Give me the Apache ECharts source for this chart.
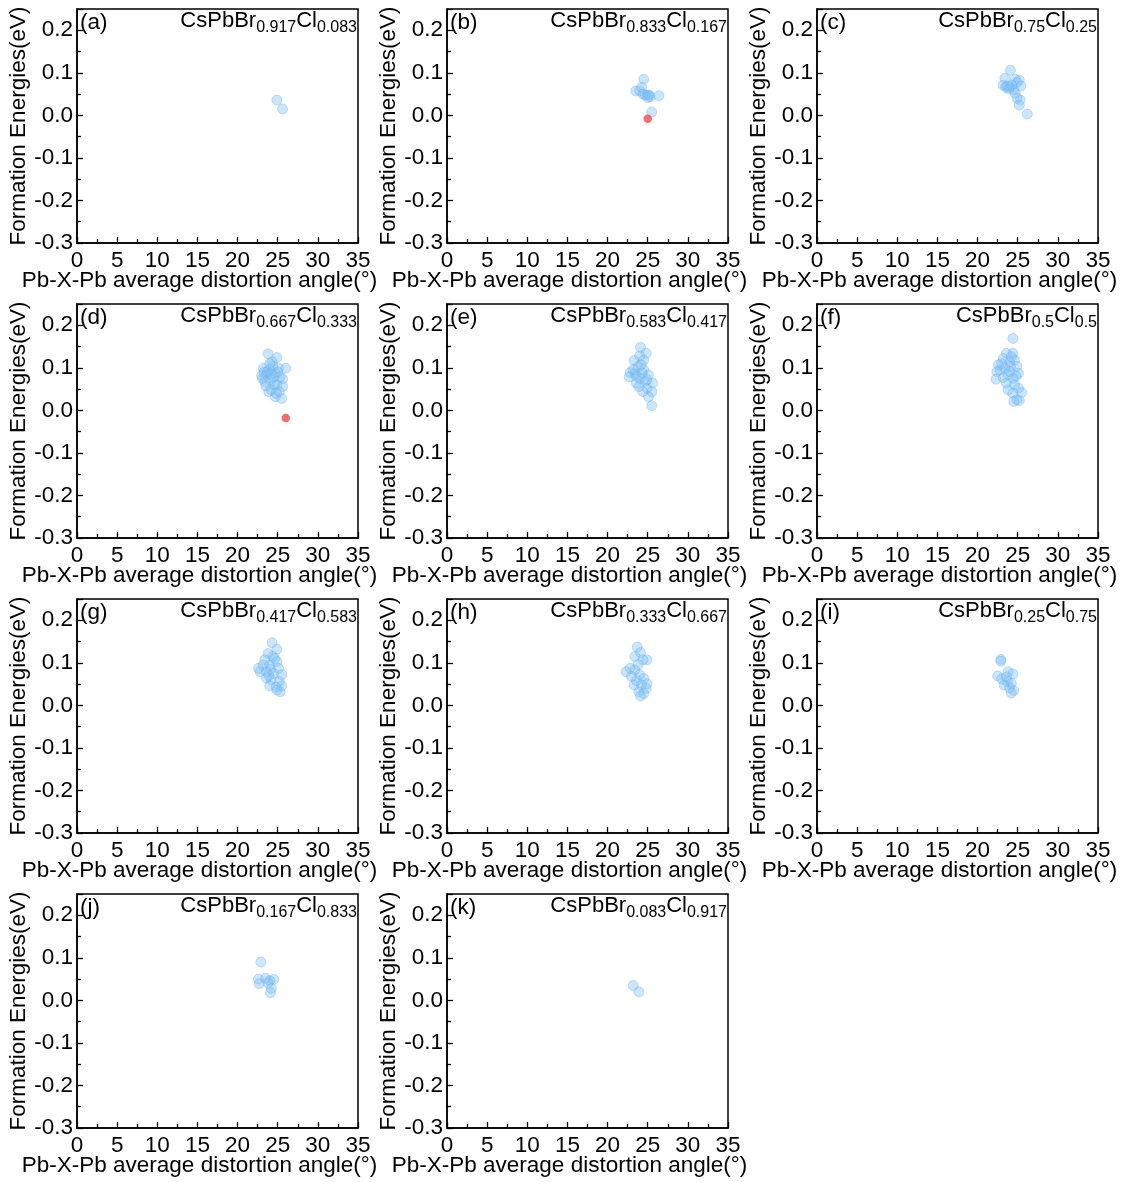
<!DOCTYPE html>
<html>
<head>
<meta charset="utf-8">
<script src="https://cdn.jsdelivr.net/npm/echarts@6/dist/echarts.min.js"></script>
<style>
  html, body { margin: 0; padding: 0; background: #fff; }
  #chart { width: 1126px; height: 1182px; }
</style>
</head>
<body>
<div id="chart"></div>
<script>
// Panel tags and halide fractions of CsPbBr(x)Cl(1-x)
const panelTags = ['(a)', '(b)', '(c)', '(d)', '(e)', '(f)', '(g)', '(h)', '(i)', '(j)', '(k)'];
const brFrac = ['0.917', '0.833', '0.75', '0.667', '0.583', '0.5', '0.417', '0.333', '0.25', '0.167', '0.083'];
const clFrac = ['0.083', '0.167', '0.25', '0.333', '0.417', '0.5', '0.583', '0.667', '0.75', '0.833', '0.917'];

// Axis ranges and tick steps
const xMin = 0, xMax = 35, xStep = 5;
const yMin = -0.3, yMax = 0.25, yStep = 0.1;
const xName = 'Pb-X-Pb average distortion angle(°)';
const yName = 'Formation Energies(eV)';

// [average distortion angle (deg), formation energy (eV)]
const ptsA = [[24.9, 0.036], [25.6, 0.015]];
const ptsB = [[24.5, 0.085], [23.5, 0.057], [24.0, 0.058], [24.25, 0.066], [24.4, 0.050], [24.7, 0.048],
  [25.0, 0.047], [25.2, 0.048], [25.0, 0.042], [25.3, 0.044], [26.4, 0.046], [25.5, 0.008]];
const ptsC = [[24.1, 0.106], [23.4, 0.087], [23.2, 0.071], [23.5, 0.066], [24.0, 0.066], [24.7, 0.085],
  [24.9, 0.077], [24.3, 0.071], [24.5, 0.060], [24.7, 0.052], [25.2, 0.083], [25.4, 0.069], [25.3, 0.036],
  [24.9, 0.040], [25.2, 0.024], [26.2, 0.003], [23.9, 0.062], [23.7, 0.069]];
const ptsD = [[23.8, 0.133], [24.9, 0.124], [24.3, 0.114], [23.2, 0.099], [24.0, 0.095], [25.1, 0.099],
  [26.0, 0.099], [23.6, 0.083], [24.7, 0.087], [23.1, 0.075], [24.1, 0.071], [25.6, 0.074], [23.4, 0.067],
  [24.9, 0.060], [25.3, 0.079], [24.2, 0.048], [23.9, 0.044], [24.7, 0.032], [25.5, 0.028], [25.2, 0.044],
  [24.6, 0.060], [23.7, 0.091], [24.4, 0.103], [25.6, 0.056], [23.0, 0.082], [24.5, 0.078], [23.5, 0.058],
  [24.8, 0.040], [25.0, 0.090], [24.2, 0.085], [23.3, 0.090], [24.0, 0.110]];
const ptsE = [[24.1, 0.148], [24.8, 0.134], [24.0, 0.128], [23.3, 0.117], [24.5, 0.118], [23.8, 0.103],
  [22.8, 0.089], [23.4, 0.086], [24.5, 0.095], [25.1, 0.083], [22.7, 0.079], [24.0, 0.075], [24.7, 0.068],
  [25.6, 0.064], [23.9, 0.056], [24.9, 0.052], [25.5, 0.044], [25.1, 0.032], [25.5, 0.011], [23.2, 0.096],
  [24.2, 0.107], [23.6, 0.064], [24.4, 0.044], [23.6, 0.080], [24.3, 0.088], [24.9, 0.072]];
const ptsF = [[24.4, 0.169], [23.6, 0.134], [24.4, 0.134], [23.2, 0.122], [24.6, 0.118], [24.0, 0.114],
  [22.6, 0.107], [24.9, 0.103], [23.4, 0.099], [22.4, 0.091], [24.0, 0.091], [25.1, 0.087], [22.3, 0.073],
  [23.2, 0.077], [24.4, 0.075], [23.6, 0.064], [24.6, 0.060], [23.8, 0.048], [25.1, 0.052], [25.5, 0.042],
  [24.4, 0.040], [24.9, 0.025], [24.5, 0.021], [25.2, 0.023], [22.8, 0.095], [24.1, 0.103], [23.0, 0.110],
  [24.8, 0.080], [23.8, 0.084], [24.2, 0.126]];
const ptsG = [[24.3, 0.147], [24.9, 0.132], [23.8, 0.122], [24.4, 0.115], [23.4, 0.107], [24.9, 0.103],
  [23.2, 0.095], [24.0, 0.095], [25.1, 0.087], [22.8, 0.079], [23.6, 0.079], [24.5, 0.075], [25.5, 0.072],
  [23.6, 0.064], [24.2, 0.060], [25.2, 0.056], [24.0, 0.046], [24.8, 0.043], [25.3, 0.032], [24.9, 0.036],
  [25.5, 0.046], [22.6, 0.087], [24.1, 0.085], [24.6, 0.110], [23.9, 0.070]];
const ptsH = [[23.7, 0.137], [24.1, 0.124], [23.4, 0.115], [24.9, 0.107], [24.4, 0.107], [22.8, 0.087],
  [22.3, 0.079], [23.4, 0.083], [24.0, 0.072], [23.0, 0.068], [23.6, 0.058], [24.5, 0.063], [23.3, 0.048],
  [24.2, 0.048], [24.8, 0.040], [23.9, 0.032], [24.5, 0.028], [24.1, 0.022], [24.9, 0.051], [23.8, 0.096]];
const ptsI = [[22.9, 0.108], [22.9, 0.104], [23.8, 0.079], [24.4, 0.074], [22.5, 0.069], [23.0, 0.062],
  [23.7, 0.056], [24.2, 0.052], [23.3, 0.048], [24.0, 0.041], [24.5, 0.035], [24.2, 0.029], [23.6, 0.067]];
const ptsJ = [[22.9, 0.090], [22.6, 0.050], [22.7, 0.039], [23.5, 0.052], [24.0, 0.046], [24.5, 0.049],
  [24.2, 0.028], [24.1, 0.018], [23.8, 0.041]];
const ptsK = [[23.2, 0.035], [23.9, 0.020]];

// Lowest-energy configurations, drawn in red
const redB = [[25.0, -0.008]];
const redD = [[26.0, -0.018]];

const bluePoints = [ptsA, ptsB, ptsC, ptsD, ptsE, ptsF, ptsG, ptsH, ptsI, ptsJ, ptsK];
const redPoints = [[], redB, [], redD, [], [], [], [], [], [], []];

// Page layout: 3 columns x 4 rows of plot boxes
const colLeft = [77, 447, 817];
const rowTop = [9, 304, 599, 894];
const plotW = 281, plotH = 234;
const pageW = 1126;

const FONT = '"Liberation Sans", Arial, Helvetica, sans-serif';
const FS = 22.5;
const INK = '#000';

const grids = [], xAxes = [], yAxes = [], series = [], titles = [];

bluePoints.forEach((pts, i) => {
  const col = i % 3, row = Math.floor(i / 3);
  const left = colLeft[col], top = rowTop[row];

  grids.push({
    left: left, top: top, width: plotW, height: plotH,
    show: true, borderColor: INK, borderWidth: 1.5, backgroundColor: 'transparent'
  });

  xAxes.push({
    gridIndex: i, type: 'value', min: xMin, max: xMax, interval: xStep,
    axisLine: { show: true, onZero: false, lineStyle: { color: INK, width: 1.5 } },
    axisTick: { show: true, inside: true, length: 6, lineStyle: { color: INK, width: 1.3 } },
    minorTick: { show: true, splitNumber: 2, length: 4, lineStyle: { color: INK, width: 1.3 } },
    splitLine: { show: false },
    axisLabel: { color: INK, fontSize: FS, fontFamily: FONT, margin: 6 },
    name: xName, nameLocation: 'middle', nameGap: 26, nameMoveOverlap: false,
    nameTextStyle: { color: INK, fontSize: FS, fontFamily: FONT, padding: [0, 36, 0, 0] }
  });

  yAxes.push({
    gridIndex: i, type: 'value', min: yMin, max: yMax, interval: yStep,
    axisLine: { show: true, onZero: false, lineStyle: { color: INK, width: 1.5 } },
    axisTick: { show: true, inside: true, length: 6, lineStyle: { color: INK, width: 1.3 } },
    minorTick: { show: true, splitNumber: 2, length: 4, lineStyle: { color: INK, width: 1.3 } },
    splitLine: { show: false },
    axisLabel: {
      color: INK, fontSize: FS, fontFamily: FONT, margin: 4, showMaxLabel: false,
      formatter: v => (Math.abs(v - yMax) < 1e-9 ? '' : v.toFixed(1))
    },
    name: yName, nameLocation: 'middle', nameGap: 47, nameMoveOverlap: false,
    nameTextStyle: { color: INK, fontSize: FS, fontFamily: FONT }
  });

  series.push({
    type: 'scatter', xAxisIndex: i, yAxisIndex: i, data: pts,
    symbol: 'circle', symbolSize: 10,
    itemStyle: { color: 'rgba(125,192,245,0.5)', borderColor: 'rgba(100,170,235,0.55)', borderWidth: 0.8 },
    emphasis: { disabled: true }, silent: true, z: 2
  });
  if (redPoints[i].length) {
    series.push({
      type: 'scatter', xAxisIndex: i, yAxisIndex: i, data: redPoints[i],
      symbol: 'circle', symbolSize: 8.5,
      itemStyle: { color: '#ee4a4a' },
      emphasis: { disabled: true }, silent: true, z: 3
    });
  }

  // panel tag, top-left inside the box
  titles.push({
    left: left + 3, top: top + 2, padding: 0, text: panelTags[i],
    textStyle: { color: INK, fontSize: FS, fontFamily: FONT, fontWeight: 'normal' }
  });
  // composition, right-aligned inside the box
  titles.push({
    right: pageW - (left + plotW) + 1, top: top + 1, padding: 0,
    text: '{m|CsPbBr}{s|' + brFrac[i] + '}{m|Cl}{s|' + clFrac[i] + '}',
    textStyle: {
      fontWeight: 'normal',
      rich: {
        m: { color: INK, fontSize: 22, fontFamily: FONT, fontWeight: 'normal', lineHeight: 23, verticalAlign: 'top' },
        s: { color: INK, fontSize: 16, fontFamily: FONT, fontWeight: 'normal', lineHeight: 16, padding: [10, 0, 0, 0], verticalAlign: 'top' }
      }
    }
  });
});

const chart = echarts.init(document.getElementById('chart'), null, { renderer: 'canvas' });
chart.setOption({
  backgroundColor: '#fff',
  animation: false,
  title: titles,
  grid: grids,
  xAxis: xAxes,
  yAxis: yAxes,
  series: series
});
</script>
</body>
</html>
